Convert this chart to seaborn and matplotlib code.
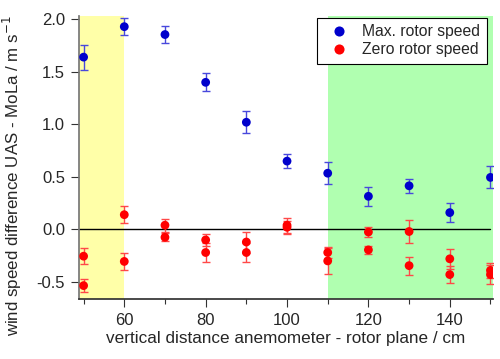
import matplotlib

matplotlib.use("Agg")

import matplotlib.pyplot as plt
import pandas as pd
import seaborn as sns
from matplotlib.ticker import FormatStrFormatter, MultipleLocator


# blue: max rotor speed
dist_max = [50, 60, 70, 80, 90, 100, 110, 120, 130, 140, 150]
diff_max = [1.64, 1.93, 1.855, 1.40, 1.02, 0.65, 0.535, 0.315, 0.415, 0.16, 0.495]
err_max = [0.12, 0.08, 0.085, 0.085, 0.105, 0.065, 0.105, 0.09, 0.065, 0.09, 0.105]

# red: zero rotor speed (two runs per distance)
dist_zero = [50, 50, 60, 60, 70, 70, 80, 80, 90, 90, 100, 100,
             110, 110, 120, 120, 130, 130, 140, 140, 150, 150]
diff_zero = [-0.255, -0.535, 0.14, -0.305, 0.04, -0.075, -0.10, -0.22, -0.12, -0.22, 0.04, 0.02,
             -0.22, -0.30, -0.025, -0.195, -0.02, -0.345, -0.28, -0.43, -0.39, -0.43]
err_zero = [0.075, 0.065, 0.08, 0.085, 0.06, 0.04, 0.06, 0.09, 0.10, 0.09, 0.07, 0.06,
            0.05, 0.12, 0.05, 0.04, 0.11, 0.085, 0.095, 0.08, 0.07, 0.09]

series_names = ["Max. rotor speed", "Zero rotor speed"]
series_colors = ["#0000CC", "#FF0000"]
err_colors = ["#4848DC", "#FF4848"]

sns.set_theme(style="ticks")
plt.rcParams["font.family"] = ["Liberation Sans", "DejaVu Sans"]
plt.rcParams["axes.unicode_minus"] = False

df = pd.concat(
    [
        pd.DataFrame({"distance": dist_max, "diff": diff_max, "err": err_max, "series": series_names[0]}),
        pd.DataFrame({"distance": dist_zero, "diff": diff_zero, "err": err_zero, "series": series_names[1]}),
    ],
    ignore_index=True,
)

fig = plt.figure(figsize=(5.0, 3.59), dpi=100)
ax = fig.add_axes([0.158, 0.167, 0.827, 0.788])

xlim = (48.87, 150.5)
ax.axvspan(xlim[0], 60, color="#FFFFA8", lw=0, zorder=0)
ax.axvspan(110, xlim[1], color="#B0FFB0", lw=0, zorder=0)
ax.plot([xlim[0], 150], [0, 0], color="black", lw=1.0, zorder=1)

for name, ecol in zip(series_names, err_colors):
    sub = df[df["series"] == name]
    ax.errorbar(sub["distance"], sub["diff"], yerr=sub["err"], fmt="none",
                ecolor=ecol, elinewidth=1.0, capsize=3, capthick=1.0, zorder=2)

sns.scatterplot(data=df, x="distance", y="diff", hue="series", palette=series_colors,
                s=40, edgecolor="none", linewidth=0, ax=ax, zorder=3)

ax.set_xlim(*xlim)
ax.set_ylim(-0.663, 2.03)
ax.xaxis.set_major_locator(MultipleLocator(20))
ax.xaxis.set_minor_locator(MultipleLocator(10))
ax.yaxis.set_major_locator(MultipleLocator(0.5))
ax.yaxis.set_major_formatter(FormatStrFormatter("%.1f"))
ax.tick_params(axis="both", which="major", length=6, width=0.8, labelsize=12, color="#333333")
ax.tick_params(axis="y", which="major", pad=4)
ax.tick_params(axis="x", which="major", pad=4)
ax.tick_params(axis="x", which="minor", length=3.5, width=0.8, color="#333333")

for side in ["top", "right"]:
    ax.spines[side].set_visible(False)
ax.spines["left"].set_color("#777777")
ax.spines["bottom"].set_color("#333333")

ax.set_xlabel("vertical distance anemometer - rotor plane / cm", fontsize=12.3, labelpad=2)
ax.set_ylabel("wind speed difference UAS - MoLa / m s$^{-1}$", fontsize=12.2)
ax.yaxis.set_label_coords(-0.132, 0.435)

leg = ax.legend(loc="upper right", bbox_to_anchor=(0.986, 0.994), fontsize=11.3, frameon=True,
                fancybox=False, edgecolor="black", framealpha=1.0, borderpad=0.4,
                handlelength=2.0, handletextpad=0.5, labelspacing=0.2, markerscale=1.15,
                borderaxespad=0)
leg.get_frame().set_linewidth(0.8)

fig.savefig("out.png", dpi=100)
